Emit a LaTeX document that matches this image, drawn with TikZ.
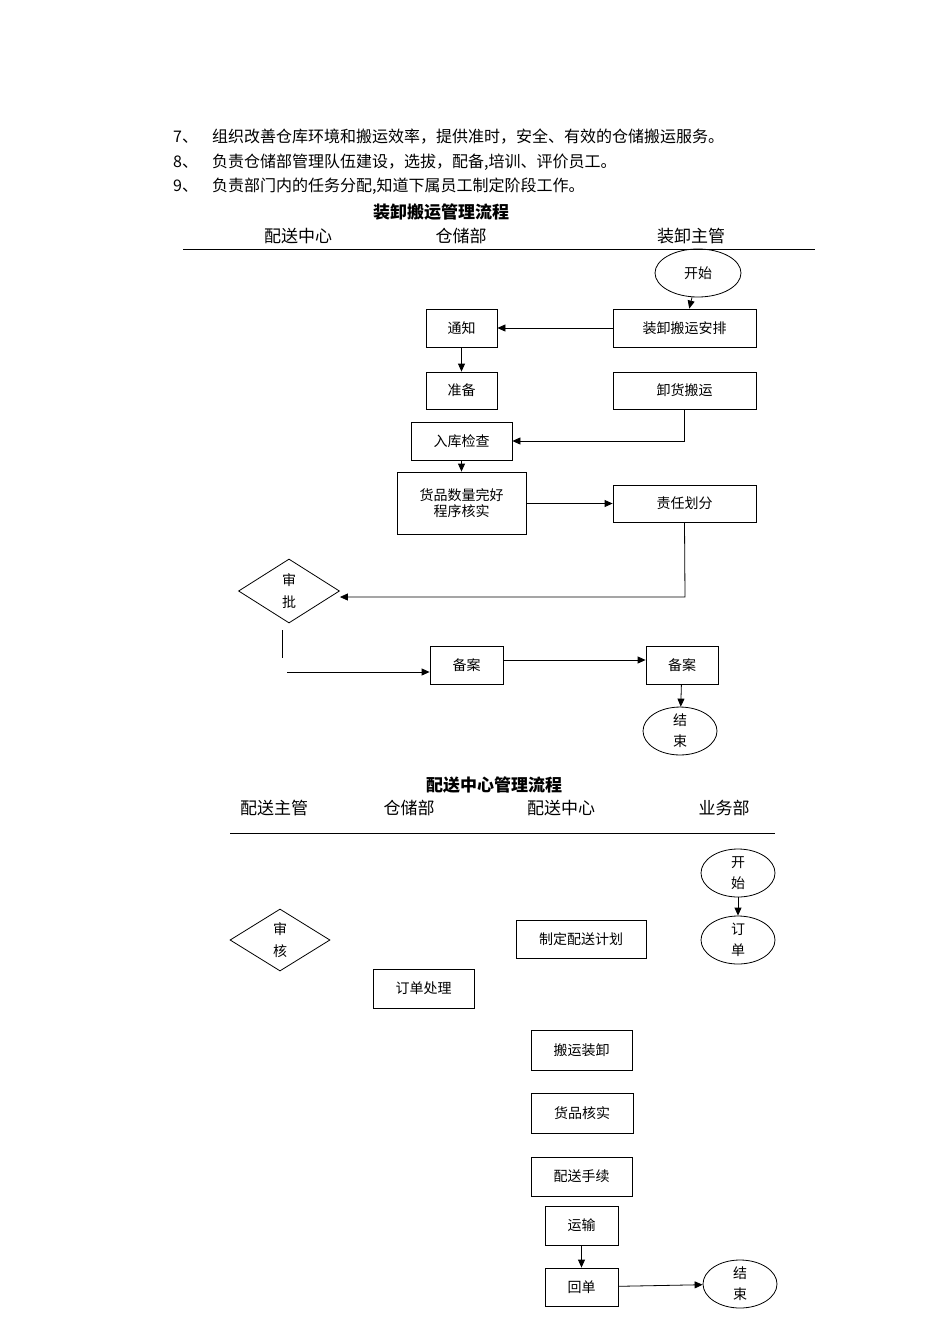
\documentclass[tikz,border=0pt]{standalone}
\usepackage{fontspec}
\setmainfont{Noto Sans CJK SC}
\usetikzlibrary{shapes.geometric,arrows.meta}
\begin{document}
\begin{tikzpicture}[x=1pt,y=-1pt,
  box/.style={draw,thick,rectangle,inner sep=0pt,font=\fontsize{14}{16}\selectfont},
  ell/.style={draw,thick,ellipse,inner sep=0pt,font=\fontsize{14}{21}\selectfont},
  dia/.style={draw,thick,diamond,inner sep=0pt,font=\fontsize{14}{22}\selectfont},
  arr/.style={thick,-{Triangle[length=8pt,width=7pt]}},
  ln/.style={thick},
  body/.style={font=\fontsize{16}{18}\selectfont,anchor=west,inner sep=0pt},
  hd/.style={font=\fontsize{17}{19}\selectfont,inner sep=0pt},
  ttl/.style={font=\fontsize{17}{19}\selectfont\bfseries,inner sep=0pt}]
\useasboundingbox (0,0) rectangle (950,1344);
% top text
\node[body] (n7) at (173,137) {7、};
\node[body] (t7) at (212,137) {组织改善仓库环境和搬运效率，提供准时，安全、有效的仓储搬运服务。};
\node[body] (n8) at (173,162) {8、};
\node[body] (t8) at (212,162) {负责仓储部管理队伍建设，选拔，配备,培训、评价员工。};
\node[body] (n9) at (173,186) {9、};
\node[body] (t9) at (212,186) {负责部门内的任务分配,知道下属员工制定阶段工作。};
% chart 1
\node[ttl] (T1) at (441,212) {装卸搬运管理流程};
\node[hd] (h1) at (298,236) {配送中心};
\node[hd] (h2) at (461,236) {仓储部};
\node[hd] (h3) at (691,236) {装卸主管};
\coordinate (L1a) at (183,249); \coordinate (L1b) at (815,249);
\draw[ln] (L1a) -- (L1b);
\node[ell,minimum width=86,minimum height=48] (start1) at (698,273) {开始};
\node[box,minimum width=143,minimum height=38] (anpai) at (684.5,328) {装卸搬运安排};
\node[box,minimum width=71,minimum height=38] (tongzhi) at (461.5,328) {通知};
\node[box,minimum width=71,minimum height=37] (zhunbei) at (461.5,390.5) {准备};
\node[box,minimum width=143,minimum height=37] (xiehuo) at (684.5,390.5) {卸货搬运};
\node[box,minimum width=101,minimum height=38] (ruku) at (461.5,441) {入库检查};
\node[box,minimum width=129,minimum height=62,align=center] (heshi) at (461.5,503) {货品数量完好\\程序核实};
\node[box,minimum width=143,minimum height=37] (zeren) at (684.5,503.5) {责任划分};
\node[dia,minimum width=101,minimum height=64,align=center] (shenpi) at (289,591) {审\\批};
\node[box,minimum width=73,minimum height=38] (bei1) at (466.5,665) {备案};
\node[box,minimum width=72,minimum height=38] (bei2) at (682,665) {备案};
\node[ell,minimum width=74,minimum height=46,align=center] (end1) at (680,731) {结\\束};
\draw[arr] (start1) -- (anpai);
\draw[arr] (anpai) -- (tongzhi);
\draw[arr] (tongzhi) -- (zhunbei);
\draw[arr] (xiehuo.south) |- (ruku.east);
\draw[arr] (ruku) -- (heshi);
\draw[arr] (heshi.east |- zeren) -- (zeren.west);
\coordinate (zc) at (685,597);
\draw[arr] (zeren.south) -- (zc) -- (shenpi.east |- zc);
\coordinate (sa) at (282,630); \coordinate (sb) at (282,658);
\draw[ln] (sa) -- (sb);
\coordinate (sc) at (287,672);
\draw[arr] (sc) -- (bei1.west |- sc);
\draw[arr] (bei1.east |- 0,660) -- (bei2.west |- 0,660);
\draw[arr] (bei2) -- (end1);
% chart 2
\node[ttl] (T2) at (494,785) {配送中心管理流程};
\node[hd] (g1) at (274,808) {配送主管};
\node[hd] (g2) at (409,808) {仓储部};
\node[hd] (g3) at (561,808) {配送中心};
\node[hd] (g4) at (724,808) {业务部};
\coordinate (L2a) at (230,833); \coordinate (L2b) at (775,833);
\draw[ln] (L2a) -- (L2b);
\node[ell,minimum width=74,minimum height=48,align=center] (start2) at (738,873) {开\\始};
\node[ell,minimum width=74,minimum height=48,align=center] (dingdan) at (738,940) {订\\单};
\node[dia,minimum width=100,minimum height=62,align=center] (shenhe) at (280,940) {审\\核};
\node[box,minimum width=101,minimum height=39] (ddcl) at (423.5,988.5) {订单处理};
\node[box,minimum width=130,minimum height=38] (jihua) at (581,939) {制定配送计划};
\node[box,minimum width=101,minimum height=40] (banyun) at (581.5,1050) {搬运装卸};
\node[box,minimum width=102,minimum height=40] (hesh2) at (582,1113) {货品核实};
\node[box,minimum width=101,minimum height=39] (shouxu) at (581.5,1176.5) {配送手续};
\node[box,minimum width=73,minimum height=39] (yunshu) at (581.5,1225.5) {运输};
\node[box,minimum width=73,minimum height=38] (huidan) at (581.5,1287) {回单};
\node[ell,minimum width=74,minimum height=48,align=center] (end2) at (740,1284) {结\\束};
\draw[arr] (start2) -- (dingdan);
\draw[arr] (yunshu) -- (huidan);
\draw[arr] (huidan) -- (end2);
\end{tikzpicture}
\end{document}
